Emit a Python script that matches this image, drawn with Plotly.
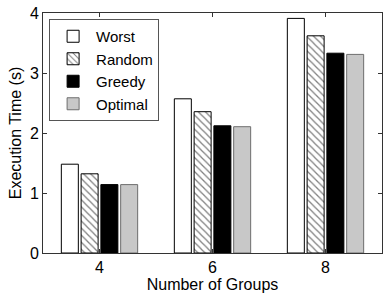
import plotly.graph_objects as go

groups = [4, 6, 8]
worst = [1.48, 2.57, 3.91]
random_ = [1.32, 2.355, 3.62]
greedy = [1.14, 2.12, 3.33]
optimal = [1.14, 2.105, 3.31]
series_names = ["Worst", "Random", "Greedy", "Optimal"]

FONT = "Liberation Sans, Arial, sans-serif"

fig = go.Figure()
fig.add_trace(go.Bar(x=groups, y=worst, name=series_names[0],
                     marker=dict(color="white", line=dict(color="black", width=1))))
fig.add_trace(go.Bar(x=groups, y=random_, name=series_names[1],
                     marker=dict(color="white", line=dict(color="black", width=1),
                                 pattern=dict(shape="\\", fgcolor="black", bgcolor="white",
                                              size=5, solidity=0.25))))
fig.add_trace(go.Bar(x=groups, y=greedy, name=series_names[2],
                     marker=dict(color="black", line=dict(color="black", width=1))))
fig.add_trace(go.Bar(x=groups, y=optimal, name=series_names[3],
                     marker=dict(color="#c8c8c8", line=dict(color="#6e6e6e", width=1))))

fig.update_layout(
    width=383, height=293,
    margin=dict(l=43, r=1, t=13, b=40),
    paper_bgcolor="white", plot_bgcolor="white",
    barmode="group", bargap=0.30, bargroupgap=0.14,
    font=dict(family=FONT, size=16, color="black"),
    showlegend=True,
    legend=dict(x=0.018, y=0.975, xanchor="left", yanchor="top",
                bgcolor="white", bordercolor="#555", borderwidth=1,
                font=dict(size=15), tracegroupgap=0, itemwidth=36),
    xaxis=dict(range=[3, 9], tickvals=groups, ticktext=[str(g) for g in groups],
               ticks="inside", ticklen=4, tickcolor="#333",
               showline=True, linecolor="#333", linewidth=1, mirror="ticks",
               showgrid=False, zeroline=False,
               title=dict(text="Number of Groups", font=dict(size=16), standoff=2),
               tickfont=dict(size=16)),
    yaxis=dict(range=[0, 4], tickvals=[0, 1, 2, 3, 4],
               ticks="inside", ticklen=4, tickcolor="#333",
               showline=True, linecolor="#333", linewidth=1, mirror="ticks",
               showgrid=False, zeroline=False,
               title=dict(text="Execution Time (s)", font=dict(size=16), standoff=4),
               tickfont=dict(size=16)),
)

fig.write_html("out.html", config={"displayModeBar": False},
               post_script="document.body.style.margin='0';")
